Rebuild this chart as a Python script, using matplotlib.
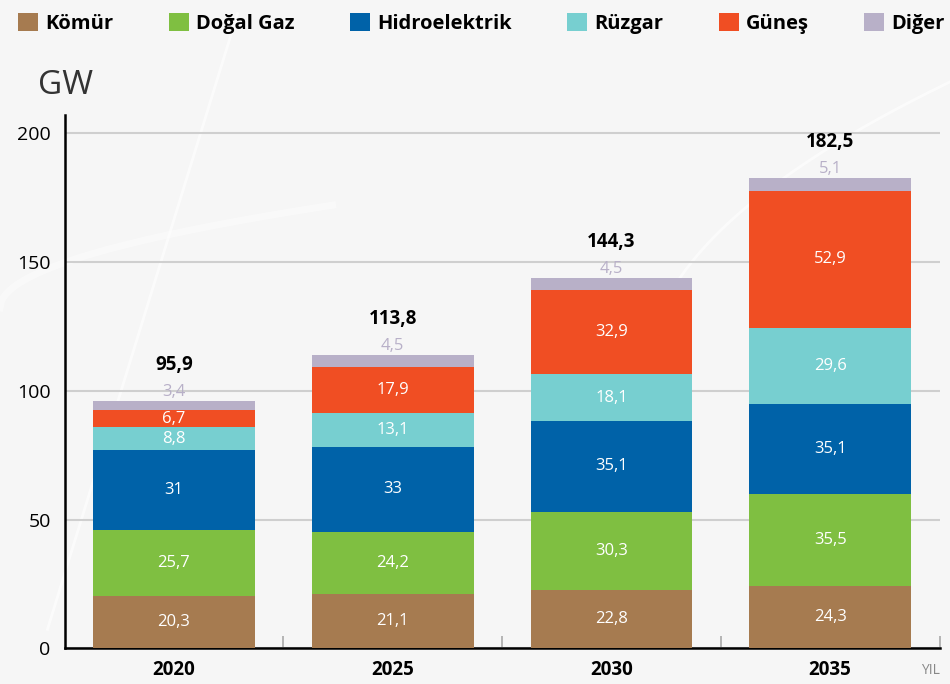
import numpy as np
import matplotlib.pyplot as plt
from matplotlib.patches import Patch

plt.rcParams['font.family'] = ['Open Sans', 'DejaVu Sans']

years = ['2020', '2025', '2030', '2035']
series = ['Kömür', 'Doğal Gaz', 'Hidroelektrik', 'Rüzgar', 'Güneş', 'Diğer']
komur = [20.3, 21.1, 22.8, 24.3]
dogalgaz = [25.7, 24.2, 30.3, 35.5]
hidro = [31, 33, 35.1, 35.1]
ruzgar = [8.8, 13.1, 18.1, 29.6]
gunes = [6.7, 17.9, 32.9, 52.9]
diger = [3.4, 4.5, 4.5, 5.1]
totals = ['95,9', '113,8', '144,3', '182,5']
colors = ['#A67B50', '#7FBF41', '#0062A8', '#77CFD0', '#F04E23', '#B8B0C8']

fig = plt.figure(figsize=(9.5, 6.84), dpi=100)
fig.patch.set_facecolor('#F6F6F6')

# faint decorative curves in the background
bg = fig.add_axes([0, 0, 1, 1], zorder=0)
bg.set_xlim(0, 1)
bg.set_ylim(0, 1)
bg.axis('off')
t = np.linspace(0, 1, 200)
bg.plot(0.25 - 0.2 * t, 0.98 - 0.9 * t, color='white', lw=2, alpha=0.6)
bg.plot(0.68 + 0.35 * t, 0.45 + 0.45 * np.sqrt(t), color='white', lw=2, alpha=0.6)
bg.plot(0.0 + 0.35 * t, 0.55 + 0.15 * t ** 0.5, color='white', lw=5, alpha=0.4)

ax = fig.add_axes([0.068, 0.052, 0.921, 0.78], zorder=1)
ax.patch.set_alpha(0)

x = np.arange(len(years))
data = [komur, dogalgaz, hidro, ruzgar, gunes, diger]
bottom = np.zeros(len(years))
for i, vals in enumerate(data):
    vals = np.array(vals)
    ax.bar(x, vals, width=0.74, bottom=bottom, color=colors[i], zorder=3)
    for j, v in enumerate(vals):
        lab = ('%g' % v).replace('.', ',')
        if i == len(data) - 1:
            ax.text(x[j], bottom[j] + v + 0.3, lab, ha='center', va='bottom',
                    color=colors[i], fontsize=12, zorder=4)
        else:
            ax.text(x[j], bottom[j] + v / 2, lab, ha='center', va='center',
                    color='white', fontsize=12, zorder=4)
    bottom += vals

for j in range(len(years)):
    ax.text(x[j], bottom[j] + 10, totals[j], ha='center', va='bottom',
            fontsize=13.5, fontweight='bold', color='black', zorder=4)

ax.set_xlim(-0.5, 3.5)
ax.set_ylim(0, 207)
ax.set_yticks([0, 50, 100, 150, 200])
ax.yaxis.grid(True, color='#CFCFCF', lw=1.5, zorder=0)
ax.set_axisbelow(True)
ax.tick_params(axis='y', length=0, labelsize=14, pad=10)
ax.set_xticks(x)
ax.set_xticklabels(years, fontsize=13.5, fontweight='bold')
ax.tick_params(axis='x', length=0, pad=8)
ax.set_xticks([0.5, 1.5, 2.5, 3.5], minor=True)
ax.tick_params(axis='x', which='minor', direction='in', length=9, color='#AAAAAA', width=1.2)
for s in ['top', 'right']:
    ax.spines[s].set_visible(False)
ax.spines['left'].set_linewidth(1.8)
ax.spines['bottom'].set_linewidth(1.8)

fig.text(0.04, 0.875, 'GW', fontsize=24, color='#333333', ha='left', va='center')
fig.text(0.989, 0.02, 'YIL', fontsize=10, color='#888888', ha='right', va='center')

handles = [Patch(facecolor=c, edgecolor='none') for c in colors]
leg = fig.legend(handles, series, loc='upper left', bbox_to_anchor=(0.0, 1.008),
                 ncol=6, frameon=False, handlelength=1.0, handleheight=1.0,
                 handletextpad=0.35, columnspacing=2.75,
                 prop={'size': 14.5, 'weight': 'bold'})

fig.savefig('out.png', dpi=100, facecolor=fig.get_facecolor())
